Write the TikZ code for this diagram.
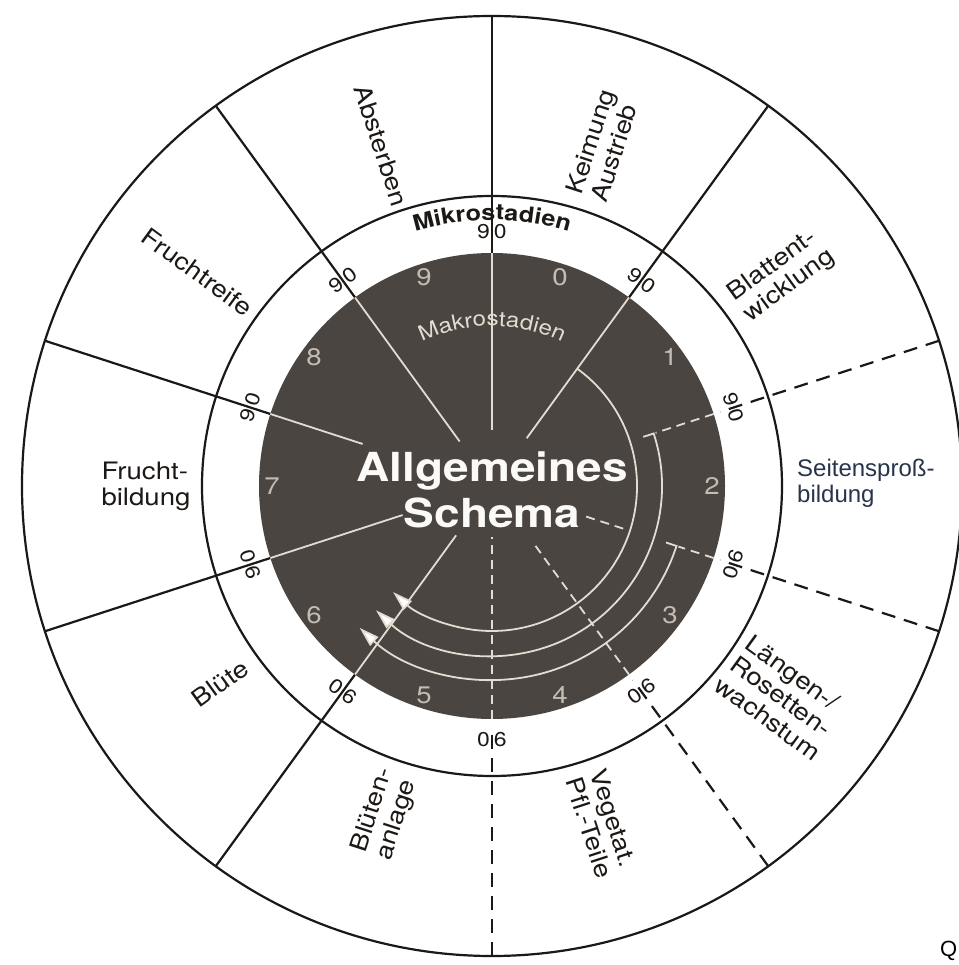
\documentclass[tikz,border=0pt]{standalone}
\usepackage{fontspec}
\setmainfont{TeX Gyre Heros}
\newfontfamily\lblfont{TeX Gyre Heros}[FakeStretch=1.15]
\newfontfamily\seitfont{Liberation Sans}
\usepackage{tikz}
\usetikzlibrary{arrows.meta}
\usetikzlibrary{decorations.text}
\definecolor{discgray}{RGB}{74,69,64}
\definecolor{litegray}{RGB}{228,220,208}
\definecolor{numgray}{RGB}{196,188,178}
\definecolor{inkblack}{RGB}{28,24,22}
\definecolor{slate}{RGB}{40,52,75}

\begin{document}
\begin{tikzpicture}[x=1pt,y=1pt,
    ring/.style={inkblack, line width=2.2pt},
    ringdash/.style={inkblack, line width=2.2pt, dash pattern=on 14pt off 9pt},
    lite/.style={litegray, line width=1.8pt},
    litedash/.style={litegray, line width=1.8pt, dash pattern=on 9pt off 6pt},
    outerlbl/.style={inkblack, font=\lblfont\fontsize{24}{26}\selectfont, align=left, inner sep=0pt},
    microlbl/.style={inkblack, font=\lblfont\fontsize{20}{20}\selectfont, inner sep=0pt},
    macronum/.style={numgray, font=\lblfont\fontsize{24}{24}\selectfont, inner sep=0pt},
    cyclearrow/.style={litegray, line width=1.8pt, -{Triangle[length=20pt,width=12pt,fill=white]}}
]

\useasboundingbox (-492,-479) rectangle (466,486);
\fill[white] (-492,-479) rectangle (466,486);

% scheibe und ringe
\fill[discgray] (0,0) circle (233);
\draw[ring] (0,0) circle (470);
\draw[ring] (0,0) circle (290);

% sektorgrenzen
\foreach \a in {54,90,126,162,198,234}
    \draw[ring] (\a:470) -- (\a:233);
\foreach \a in {18,-18,-54,-90}
    \draw[ringdash] (\a:470) -- (\a:240);

\draw[lite] (90:233) -- (90:56);
\draw[lite] (54:233) -- (54:59);
\draw[lite] (126:233) -- (126:55);
\draw[lite] (162:233) -- (162:136);
\draw[lite] (198:233) -- (198:94);
\draw[lite] (234:233) -- (234:61);
\draw[litedash] (18:233) -- (18:172);
\draw[litedash] (-18:233) -- (-18:196);
\draw[litedash] (-18:138) -- (-18:97);
\draw[litedash] (-54:233) -- (-54:69);
\draw[litedash] (-90:233) -- (-90:51);

% pfeile
\draw[cyclearrow] (54:145) arc[start angle=54, end angle=-133, radius=145];
\draw[cyclearrow] (18:159) -- (18:170) arc[start angle=18, end angle=-133, radius=170];
\draw[cyclearrow] (-18:183) -- (-18:194) arc[start angle=-18, end angle=-133, radius=194];

% mikrostadien
\foreach \a [count=\i] in {18,54,90,126,162}
    \node[microlbl, rotate=\a-90] (mikro\i) at (\a:254) {9\hspace{4pt}0};
\foreach \a [count=\i] in {-18,-54,-90,-126,-162}
    \node[microlbl, rotate=\a+90] (mikrou\i) at (\a:254) {0\hspace{4pt}6};

\path[decorate, decoration={text along path, text align=center, text color=inkblack,
    text={|\lblfont\fontsize{22}{22}\selectfont\bfseries|Mikrostadien}}]
    (122:266) arc[start angle=122, end angle=58, radius=266];

% makrostadien
\foreach \n/\a in {0/72,1/36,2/0,3/-36,4/-72,5/-108,6/-144,7/180,8/144,9/108}
    \node[macronum] (makro\n) at (\a:220) {\n};

\path[decorate, decoration={text along path, text align=center, text color=litegray,
    text={|\lblfont\fontsize{21}{21}\selectfont|Makrostadien}}]
    (125:160) arc[start angle=125, end angle=55, radius=160];

\node[font=\lblfont\fontsize{40}{46}\selectfont\bfseries, text=white!85!litegray, align=center, inner sep=0pt] (schema) at (0,-4) {Allgemeines\\Schema};

% aeusserer ring
\node[outerlbl, rotate=-72] (absterben) at (108:358) {Absterben};
\node[outerlbl, rotate=72] (keimung) at (72:358) {Keimung\\Austrieb};
\node[outerlbl, rotate=36] (blatt) at (36:358) {Blattent-\\wicklung};
\node[slate, font=\seitfont\fontsize{24}{26}\selectfont, align=left, anchor=west, inner sep=0pt] (seiten) at (305,3) {Seitenspro\ss-\\bildung};
\node[outerlbl, rotate=-36] (laengen) at (-36:360) {Längen-/\\Rosetten-\\wachstum};
\node[outerlbl, rotate=-72] (vegetat) at (-72:355) {Vegetat.\\Pfl.-Teile};
\node[outerlbl, rotate=72] (bluetenanlage) at (-108:345) {Blüten-\\anlage};
\node[outerlbl, rotate=36] (bluete) at (-144:336) {Blüte};
\node[outerlbl] (fruchtbildung) at (180:346) {Frucht-\\bildung};
\node[outerlbl, rotate=-36] (fruchtreife) at (144:364) {Fruchtreife};

\node[font=\seitfont\fontsize{22}{22}\selectfont, anchor=west, inner sep=0pt] (quelle) at (448,-465) {Q};

\end{tikzpicture}
\end{document}
